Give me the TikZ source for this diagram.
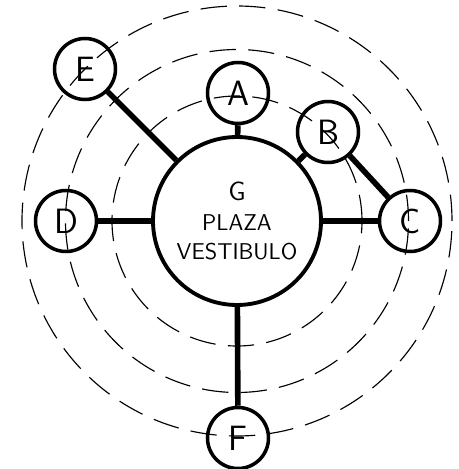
\documentclass[tikz,border=0pt]{standalone}
\usepackage{tikz}
\usetikzlibrary{positioning}

\begin{document}
\begin{tikzpicture}[
  room/.style={draw, circle, line width=2pt, minimum size=1.22cm, inner sep=0pt,
    font=\sffamily\fontsize{20}{24}\selectfont},
  plaza/.style={draw, circle, line width=2.2pt, minimum size=3.36cm, inner sep=0pt,
    align=center, font=\sffamily\fontsize{13}{17}\selectfont},
  ring/.style={line width=0.65pt, dash pattern=on 15pt off 7pt},
  link/.style={line width=3.2pt}
]
  \useasboundingbox (-4.74,-4.96) rectangle (4.44,4.42);

  % dashed rings
  \draw[ring] (0,0) circle (2.50);
  \draw[ring] (0,0) circle (3.43);
  \draw[ring] (0,0) circle (4.30);

  % plaza and rooms
  \node[plaza] (G) at (0,0) {\fontsize{15}{17}\selectfont G\\PLAZA\\VESTIBULO};
  \node[room] (A) at (0.02,2.56) {A};
  \node[room] (B) at (1.82,1.78) {B};
  \node[room] (C) at (3.46,0) {C};
  \node[room] (D) at (-3.42,0) {D};
  \node[room] (E) at (-3.04,3.04) {E};
  \node[room] (F) at (0.02,-4.34) {F};

  % links
  \draw[link] (G) -- (A);
  \draw[link] (G) -- (B);
  \draw[link] (B) -- (C);
  \draw[link] (G) -- (C);
  \draw[link] (G) -- (D);
  \draw[link] (G) -- (E);
  \draw[link] (G) -- (F);
\end{tikzpicture}
\end{document}
